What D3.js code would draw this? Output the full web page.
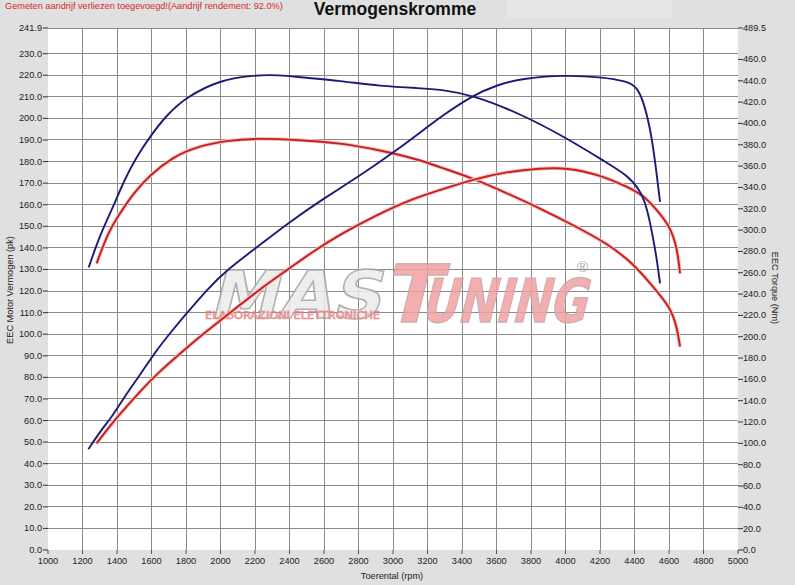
<!DOCTYPE html>
<html><head><meta charset="utf-8">
<script src="https://cdn.jsdelivr.net/npm/d3@7"></script>
<style>
html,body{margin:0;padding:0;background:#e0e0e0;}
svg{display:block;font-family:"Liberation Sans",Arial,sans-serif;}
</style></head>
<body>
<script>
// ---- data ----
const xTicks = [1000,1200,1400,1600,1800,2000,2200,2400,2600,2800,3000,3200,3400,3600,3800,4000,4200,4400,4600,4800,5000];
const leftTicks = [0,10,20,30,40,50,60,70,80,90,100,110,120,130,140,150,160,170,180,190,200,210,220,230,241.9];
const rightTicks = [0,20,40,60,80,100,120,140,160,180,200,220,240,260,280,300,320,340,360,380,400,420,440,460,489.5];

// Tuned power (pk)
const bluePowerRpm = [1234,1301,1379,1437,1533,1630,1707,1804,1920,2036,2190,2400,2600,2800,3000,3200,3272,3464,3603,3754,4009,4200,4357,4414,4449,4490,4519,4548];
const bluePowerPk  = [46.7,54.8,62.6,70.3,81.1,92.7,100.4,109.7,120.5,129.7,139,152,163,173,184,196,200.5,210.8,215.5,218.7,220.1,219.2,217.3,214.5,208.5,196,180.7,161.3];
// Tuned torque (Nm)
const blueTorqueRpm = [1236,1301,1379,1437,1514,1591,1688,1804,1997,2190,2345,2461,2693,2925,3157,3272,3464,3754,4009,4241,4357,4432,4472,4507,4530,4548];
const blueTorqueNm  = [265,295.4,322,345.3,368.8,387.6,408,425,440.7,445.4,445.4,443.3,440,435,433,432,426.7,408,386,363,351.6,337.6,321.6,293.5,272,250];
// Stock power (pk)
const redPowerRpm = [1282,1340,1417,1533,1630,1765,1920,2074,2229,2383,2538,2700,2900,3100,3272,3464,3661,3852,4009,4200,4357,4449,4530,4606,4646,4664];
const redPowerPk  = [49.4,55.6,63,73.5,81.5,91,101.5,111,121,129.5,138.5,146.5,155,162.4,166.8,171.8,175.3,176.9,177.2,173.8,168.4,164.5,157.6,149.8,140.5,128.2];
// Stock torque (Nm)
const redTorqueRpm = [1282,1350,1417,1495,1591,1726,1862,2036,2210,2461,2693,2925,3157,3272,3464,3661,3852,4043,4241,4391,4507,4606,4646,4664];
const redTorqueNm  = [268.8,298.5,315.8,334.5,351.6,368.8,378.2,384,386.1,384.5,381.7,375,365.8,358.9,348.6,334.5,320.4,304.8,287.6,268.9,247,228,209.4,190.7];

const headerText = "Gemeten aandrijf verliezen toegevoegd!(Aandrijf rendement: 92.0%)";
const titleText = "Vermogenskromme";

// ---- layout ----
const W = 795, H = 585;
const L = 48, R = 738, T = 28, B = 550;

const svg = d3.select("body").append("svg").attr("width", W).attr("height", H);
svg.append("rect").attr("width", W).attr("height", H).attr("fill", "#e0e0e0");
svg.append("rect").attr("x", 507).attr("y", 0).attr("width", 165).attr("height", 18).attr("fill", "#e7e5e5");

const x = d3.scaleLinear().domain([1000, 5000]).range([L, R]);
const yL = d3.scaleLinear().domain([0, 241.9]).range([B, T]);
const yR = d3.scaleLinear().domain([0, 489.5]).range([B, T]);

// plot background
svg.append("rect").attr("x", L).attr("y", T).attr("width", R - L).attr("height", B - T).attr("fill", "#ffffff");

// grid
const grid = svg.append("g").attr("stroke", "#8a8a8a").attr("stroke-width", 1).attr("shape-rendering", "crispEdges");
xTicks.filter(d => d > 1000 && d < 5000).forEach(d => {
  grid.append("line").attr("x1", x(d)).attr("x2", x(d)).attr("y1", T).attr("y2", B);
});
leftTicks.filter(d => d > 0).forEach(d => {
  grid.append("line").attr("x1", L).attr("x2", R).attr("y1", yL(d)).attr("y2", yL(d));
});

// watermark
const wm = svg.append("g").attr("opacity", 0.85);
const sk = "skewX(-14) translate(" + (Math.tan(14 * Math.PI / 180) * 320).toFixed(1) + ",0)";
wm.append("text").attr("x", 208).attr("y", 318).attr("font-size", 66).attr("font-weight", "bold")
  .attr("font-family", "'DejaVu Sans'").attr("textLength", 172).attr("lengthAdjust", "spacingAndGlyphs")
  .attr("transform", sk)
  .attr("fill", "#ececec").attr("stroke", "#a5a5a5").attr("stroke-width", 1.6).text("MAS");
const tu = wm.append("text").attr("x", 382).attr("y", 322).attr("font-weight", "bold")
  .attr("font-family", "'DejaVu Sans'").attr("transform", sk)
  .attr("fill", "#f2a2a2").attr("stroke", "#c8a2a2").attr("stroke-width", 1.5);
tu.append("tspan").attr("font-size", 80).text("T");
tu.append("tspan").attr("font-size", 60).attr("dx", -16).attr("textLength", 165).attr("lengthAdjust", "spacingAndGlyphs").text("UNING");
wm.append("text").attr("x", 205).attr("y", 319).attr("font-size", 10)
  .attr("font-family", "'DejaVu Sans'").attr("textLength", 175).attr("lengthAdjust", "spacingAndGlyphs")
  .attr("fill", "#f6c4c4").attr("stroke", "#e07070").attr("stroke-width", 0.6).text("ELABORAZIONI ELETTRONICHE");
wm.append("text").attr("x", 577).attr("y", 272).attr("font-size", 15)
  .attr("fill", "#9a9a9a").text("®");

// curves
const pts = (xs, ys) => xs.map((v, i) => [v, ys[i]]);
const lineL = d3.line().x(d => x(d[0])).y(d => yL(d[1])).curve(d3.curveBasis);
const lineR = d3.line().x(d => x(d[0])).y(d => yR(d[1])).curve(d3.curveBasis);

const curves = [
  {d: lineR(pts(redTorqueRpm, redTorqueNm)), c: "#c8201e", glow: true},
  {d: lineL(pts(redPowerRpm, redPowerPk)), c: "#c8201e", glow: true},
  {d: lineR(pts(blueTorqueRpm, blueTorqueNm)), c: "#1a1b78", glow: false},
  {d: lineL(pts(bluePowerRpm, bluePowerPk)), c: "#1a1b78", glow: false}
];
curves.forEach(cv => {
  if (cv.glow) svg.append("path").attr("d", cv.d).attr("fill", "none").attr("stroke", "#f7c2c2").attr("stroke-width", 3.8);
  svg.append("path").attr("d", cv.d).attr("fill", "none").attr("stroke", cv.c).attr("stroke-width", 1.9);
});

// axes
const fmt = d => d.toFixed(1);
const fs = 9.2;
const axL = svg.append("g");
leftTicks.forEach(d => {
  axL.append("line").attr("x1", L - 5).attr("x2", L).attr("y1", yL(d)).attr("y2", yL(d)).attr("stroke", "#333");
  axL.append("text").attr("x", L - 6).attr("y", yL(d) + 3).attr("text-anchor", "end")
    .attr("font-size", fs).attr("fill", "#222").text(fmt(d));
});
const axR = svg.append("g");
rightTicks.forEach(d => {
  axR.append("line").attr("x1", R).attr("x2", R + 5).attr("y1", yR(d)).attr("y2", yR(d)).attr("stroke", "#333");
  axR.append("text").attr("x", R + 5).attr("y", yR(d) + 3).attr("text-anchor", "start")
    .attr("font-size", fs).attr("fill", "#222").text(fmt(d));
});
const axB = svg.append("g");
xTicks.forEach(d => {
  axB.append("line").attr("x1", x(d)).attr("x2", x(d)).attr("y1", B).attr("y2", B + 4).attr("stroke", "#555");
  axB.append("text").attr("x", x(d)).attr("y", B + 14).attr("text-anchor", "middle")
    .attr("font-size", fs).attr("fill", "#222").text(d);
});

// titles
svg.append("text").attr("x", 5).attr("y", 9).attr("font-size", 9.2).attr("fill", "#d42a2a").text(headerText);
svg.append("text").attr("x", 395).attr("y", 15).attr("text-anchor", "middle").attr("font-size", 17.5)
  .attr("font-weight", "bold").attr("fill", "#111").text(titleText);
svg.append("text").attr("x", 392).attr("y", 579).attr("text-anchor", "middle").attr("font-size", fs)
  .attr("fill", "#222").text("Toerental (rpm)");
svg.append("text").attr("transform", "translate(13,290) rotate(-90)").attr("text-anchor", "middle")
  .attr("font-size", fs).attr("fill", "#222").text("EEC Motor Vermogen (pk)");
svg.append("text").attr("transform", "translate(772,288) rotate(90)").attr("text-anchor", "middle")
  .attr("font-size", fs).attr("fill", "#222").text("EEC Torque (Nm)");
</script>
</body></html>
